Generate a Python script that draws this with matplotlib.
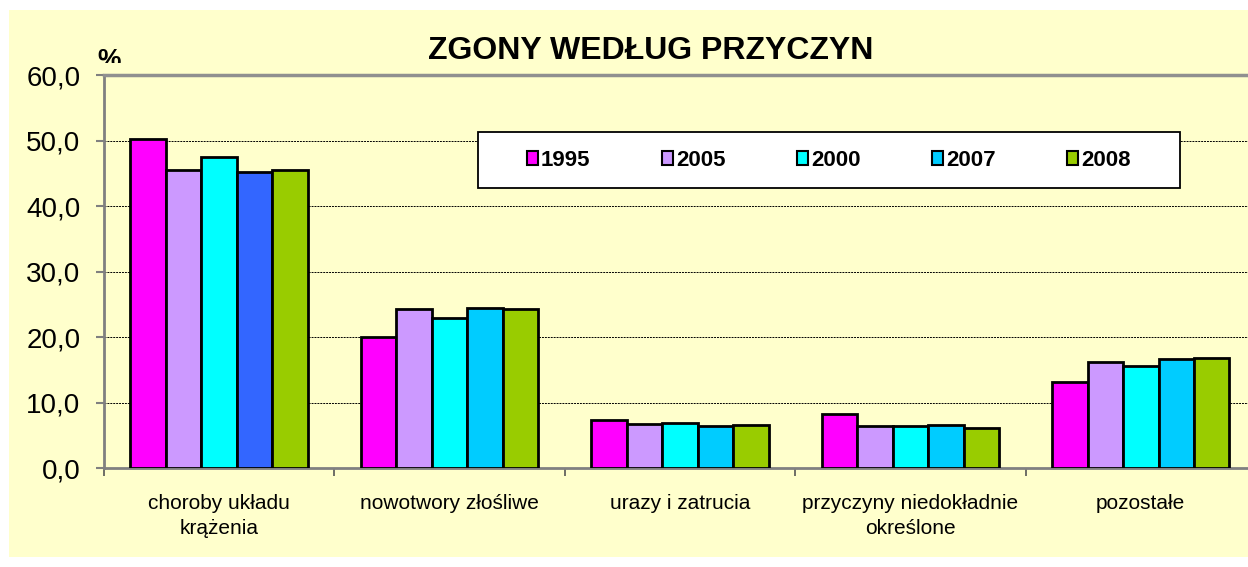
import matplotlib
matplotlib.use("Agg")
import numpy as np
import matplotlib.pyplot as plt
from matplotlib.patches import Rectangle
from matplotlib.transforms import Bbox, TransformedBbox

plt.rcParams['font.family'] = ['Liberation Sans', 'DejaVu Sans']

# dane
categories = ["choroby układu\nkrążenia", "nowotwory złośliwe", "urazy i zatrucia",
              "przyczyny niedokładnie\nokreślone", "pozostałe"]
years = ["1995", "2005", "2000", "2007", "2008"]
v1995 = [50.2, 20.0, 7.3, 8.2, 13.1]
v2005 = [45.5, 24.3, 6.7, 6.4, 16.2]
v2000 = [47.5, 22.9, 6.9, 6.4, 15.6]
v2007 = [45.2, 24.4, 6.4, 6.6, 16.6]
v2008 = [45.5, 24.3, 6.6, 6.1, 16.8]
series = [v1995, v2005, v2000, v2007, v2008]
y_ticks = [0, 10, 20, 30, 40, 50, 60]

colors = ["#FF00FF", "#CC99FF", "#00FFFF", "#00CCFF", "#99CC00"]
bg = "#FFFFCC"

fig = plt.figure(figsize=(12.48, 5.67), dpi=100)
fig.patch.set_facecolor("white")
fig.patches.append(Rectangle((0.0072, 0.0176), 1.0, 0.9648, transform=fig.transFigure,
                             facecolor=bg, edgecolor="none", zorder=-10))

ax = fig.add_axes([0.0833, 0.1746, 0.9231, 0.6931])
ax.set_facecolor(bg)

x = np.arange(len(categories))
w = 0.154
for i, (lab, vals) in enumerate(zip(years, series)):
    bar_cols = [colors[i]] * len(vals)
    if lab == "2007":
        bar_cols[0] = "#3366FF"  # w oryginale pierwszy słupek ciemniejszy
    ax.bar(x + (i - 2) * w, vals, width=w, color=bar_cols, edgecolor="black",
           linewidth=2.0, label=lab, zorder=3)

# ramka legendy osobno, legenda bez ramki wycentrowana w niej
ax.add_patch(Rectangle((0.3247, 0.712), 0.609, 0.143, transform=ax.transAxes,
                       facecolor="white", edgecolor="black", linewidth=1.3, zorder=4))
handles = [Rectangle((0, 0), 1, 1, facecolor=c, edgecolor="black", linewidth=1.5) for c in colors]
leg = ax.legend(handles, years, ncol=5, loc="center",
                bbox_to_anchor=(0.3247 + 0.609 / 2, 0.712 + 0.143 / 2),
                frameon=False, prop={"weight": "bold", "size": 16},
                handlelength=0.5, handleheight=0.6, handletextpad=0.15,
                columnspacing=3.2, borderaxespad=0, borderpad=0)
leg.set_zorder(5)

ax.set_ylim(0, 60)
ax.set_xlim(-0.5, len(categories) - 0.5)
ax.set_yticks(y_ticks)
ax.set_yticklabels([f"{t:.1f}".replace(".", ",") for t in y_ticks], fontsize=20)
ax.yaxis.grid(True, color="black", linestyle=(0, (2, 1)), linewidth=0.7, zorder=0)
ax.set_axisbelow(True)

ax.set_xticks(np.arange(len(categories) + 1) - 0.5)
ax.set_xticklabels([])
ax.set_xticks(x, minor=True)
ax.set_xticklabels(categories, minor=True, fontsize=15, linespacing=1.4)
ax.tick_params(axis="x", which="minor", length=0, pad=19)
ax.tick_params(axis="x", which="major", length=6, color="#555555", width=1.2, direction="out")
ax.tick_params(axis="y", length=6, color="#808080", width=1.5, pad=11)

for s in ["left", "bottom"]:
    ax.spines[s].set_color("#808080")
    ax.spines[s].set_linewidth(2)
ax.spines["top"].set_color("#909090")
ax.spines["top"].set_linewidth(2.5)
ax.spines["right"].set_visible(False)

fig.text(0.521, 0.91, "ZGONY WEDŁUG PRZYCZYN", ha="center", va="center",
         fontsize=23, fontweight="bold")
# znak % przycięty od dołu jak w oryginale
pct = fig.text(0.0877, 1 - 67 / 567, "%", ha="center", va="baseline", fontsize=19, fontweight="bold")
pct.set_clip_box(TransformedBbox(Bbox([[0, 1 - 63 / 567], [1, 1]]), fig.transFigure))
pct.set_clip_on(True)

fig.savefig("out.png", dpi=100, facecolor=fig.get_facecolor())
